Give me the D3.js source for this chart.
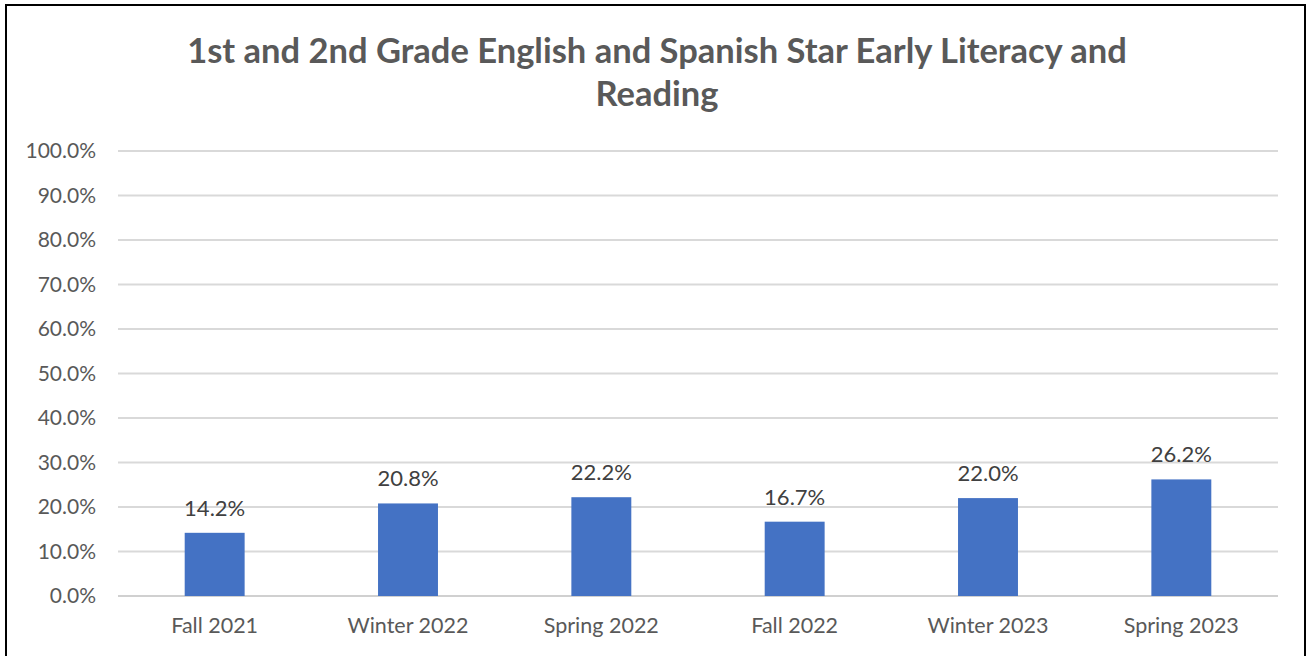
<!doctype html>
<html>
<head>
<script src="https://cdn.jsdelivr.net/npm/d3@7"></script>
<style>
  html, body { margin: 0; padding: 0; background: #fff; }
  #viz { position: absolute; top: 0; left: 0; width: 1307px; height: 656px; }
  text { font-family: Lato, "Noto Sans", sans-serif; }
</style>
</head>
<body>
<div id="viz"></div>
<script>
var categories = ["Fall 2021", "Winter 2022", "Spring 2022", "Fall 2022", "Winter 2023", "Spring 2023"];
var values = [14.2, 20.8, 22.2, 16.7, 22.0, 26.2];
var yTicks = [0, 10, 20, 30, 40, 50, 60, 70, 80, 90, 100];
var titleLines = ["1st and 2nd Grade English and Spanish Star Early Literacy and", "Reading"];

var w = 1307, h = 656;
var margin = {top: 151, right: 29, bottom: 60, left: 118};

var svg = d3.select("#viz").append("svg")
    .attr("width", w)
    .attr("height", h);

// frame around chart
svg.append("rect")
    .attr("x", 6).attr("y", 5)
    .attr("width", 1299).attr("height", 660)
    .attr("fill", "#fff")
    .attr("stroke", "#000")
    .attr("stroke-width", 2);

var x = d3.scaleBand()
    .domain(categories)
    .range([margin.left, w - margin.right])
    .paddingInner(0.69)
    .paddingOuter(0.345);

var y = d3.scaleLinear()
    .domain([0, 100])
    .range([596, margin.top]);

// gridlines
svg.append("g")
    .selectAll("line")
    .data(yTicks)
    .enter()
    .append("line")
        .attr("x1", margin.left)
        .attr("x2", w - margin.right)
        .attr("y1", function (d) { return y(d); })
        .attr("y2", function (d) { return y(d); })
        .attr("stroke", function (d) { return d === 0 ? "#d0d0d0" : "#d9d9d9"; })
        .attr("stroke-width", 2);

// y axis labels
var yAxis = d3.axisLeft(y)
    .tickValues(yTicks)
    .tickSize(0)
    .tickPadding(0)
    .tickFormat(function (d) { return d.toFixed(1) + "%"; });

svg.append("g")
    .attr("transform", "translate(96,0)")
    .call(yAxis)
    .call(function (g) { g.select(".domain").remove(); })
    .selectAll("text")
        .attr("fill", "#595959")
        .style("font-size", "21px");

// x axis labels
var xAxis = d3.axisBottom(x).tickSize(0).tickPadding(0);
svg.append("g")
    .attr("transform", "translate(0,618)")
    .call(xAxis)
    .call(function (g) { g.select(".domain").remove(); })
    .selectAll("text")
        .attr("fill", "#595959")
        .style("font-size", "21.5px");

// bars
svg.append("g")
    .selectAll("rect")
    .data(values)
    .enter()
    .append("rect")
        .attr("x", function (d, i) { return x(categories[i]); })
        .attr("y", function (d) { return y(d); })
        .attr("width", x.bandwidth())
        .attr("height", function (d) { return y(0) - y(d); })
        .attr("fill", "#4472c4");

// data labels
svg.append("g")
    .selectAll("text")
    .data(values)
    .enter()
    .append("text")
        .attr("x", function (d, i) { return x(categories[i]) + x.bandwidth() / 2; })
        .attr("y", function (d) { return y(d) - 17; })
        .attr("text-anchor", "middle")
        .attr("fill", "#404040")
        .style("font-size", "22px")
        .text(function (d) { return d.toFixed(1) + "%"; });

// title
svg.append("g")
    .selectAll("text")
    .data(titleLines)
    .enter()
    .append("text")
        .attr("x", 657)
        .attr("y", function (d, i) { return 63 + i * 43; })
        .attr("text-anchor", "middle")
        .attr("fill", "#595959")
        .style("font-size", "34.5px")
        .style("font-weight", "bold")
        .text(function (d) { return d; });
</script>
</body>
</html>
